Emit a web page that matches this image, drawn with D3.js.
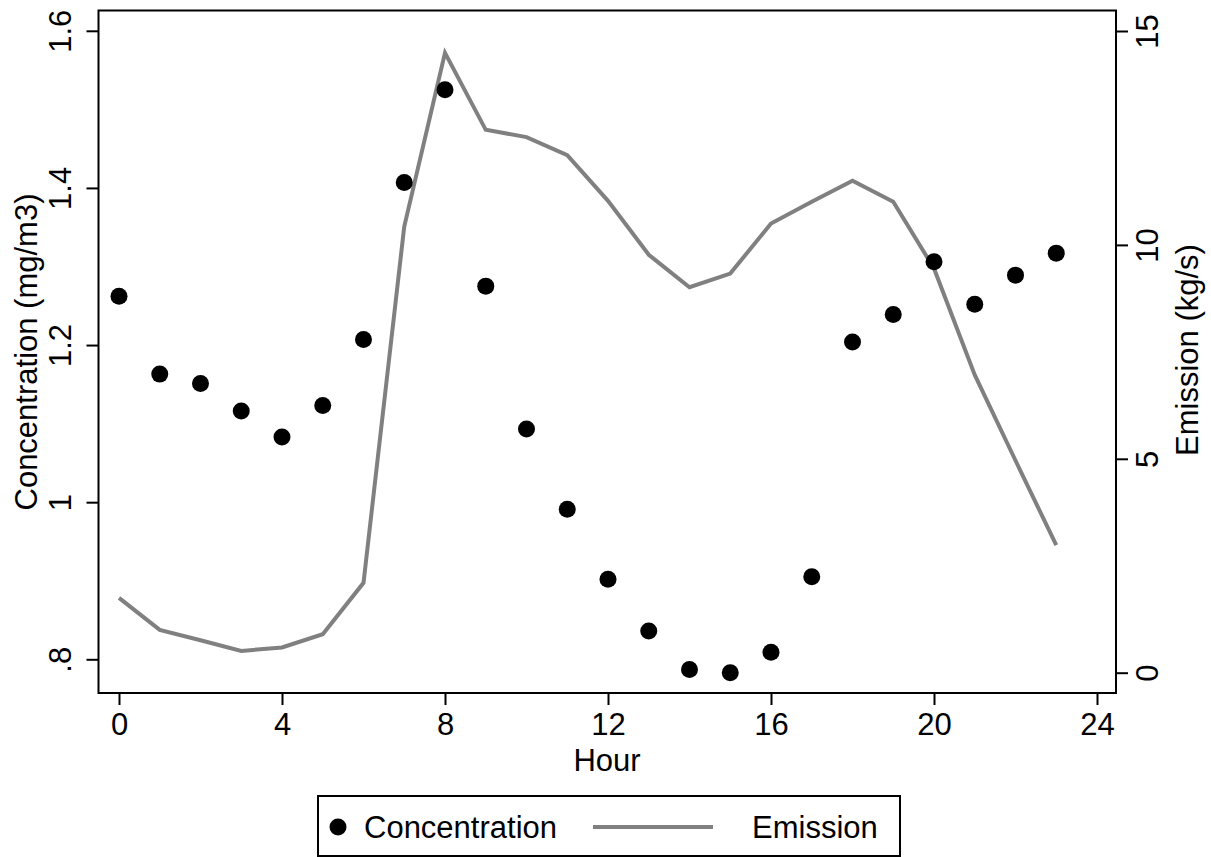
<!DOCTYPE html>
<html>
<head>
<meta charset="utf-8">
<script src="https://cdn.jsdelivr.net/npm/d3@7"></script>
<style>
  body { margin: 0; background: #fff; }
  svg text { font-family: 'Liberation Sans', Arial, Helvetica, sans-serif; fill: #000; }
</style>
</head>
<body>
<div id="chart"></div>
<script>
const hours = d3.range(0, 24)

const concentration = [1.262, 1.163, 1.151, 1.116, 1.083, 1.123, 1.207, 1.407,
  1.525, 1.275, 1.093, 0.991, 0.902, 0.836, 0.787, 0.783, 0.809, 0.905,
  1.204, 1.239, 1.306, 1.252, 1.289, 1.317]

const emission = [1.75, 1.0, 0.76, 0.51, 0.59, 0.9, 2.1, 10.43, 14.49, 12.69,
  12.52, 12.1, 11.03, 9.77, 9.01, 9.33, 10.5, 11.01, 11.5, 11.01, 9.45,
  6.96, 4.96, 2.98]

const xTicks = [0, 4, 8, 12, 16, 20, 24]
const leftTicks = [0.8, 1, 1.2, 1.4, 1.6]
const rightTicks = [0, 5, 10, 15]

const width = 1211
const height = 857
const box = { left: 98.5, right: 1116, top: 10.5, bottom: 693 }

const svg = d3
  .select('#chart')
  .append('svg')
  .attr('width', width)
  .attr('height', height)

const xPositionScale = d3.scaleLinear().domain([0, 24]).range([119, 1097])
const yLeftScale = d3.scaleLinear().domain([0.8, 1.6]).range([659.3, 30.8])
const yRightScale = d3.scaleLinear().domain([0, 15]).range([672.7, 31])

const fontSize = 31

// emission line
const line = d3
  .line()
  .x((d, i) => xPositionScale(hours[i]))
  .y(d => yRightScale(d))

svg
  .append('path')
  .datum(emission)
  .attr('d', line)
  .attr('fill', 'none')
  .attr('stroke', '#808080')
  .attr('stroke-width', 4)

// concentration dots
svg
  .selectAll('.dot')
  .data(concentration)
  .enter()
  .append('circle')
  .attr('class', 'dot')
  .attr('cx', (d, i) => xPositionScale(hours[i]))
  .attr('cy', d => yLeftScale(d))
  .attr('r', 8.5)
  .attr('fill', '#000')

// plot region outline
svg
  .append('rect')
  .attr('x', box.left)
  .attr('y', box.top)
  .attr('width', box.right - box.left)
  .attr('height', box.bottom - box.top)
  .attr('fill', 'none')
  .attr('stroke', '#000')
  .attr('stroke-width', 2)

const fmt = d => {
  const s = String(d)
  return s.startsWith('0.') ? s.slice(1) : s
}

// x axis
const xAxis = d3.axisBottom(xPositionScale).tickValues(xTicks).tickSize(12).tickPadding(8)
const gx = svg.append('g').attr('transform', 'translate(0,' + box.bottom + ')').call(xAxis)
gx.select('.domain').remove()
gx.selectAll('line').attr('stroke', '#000').attr('stroke-width', 2)
gx.selectAll('text').attr('font-size', fontSize).attr('font-family', null)

// left axis
const yAxis = d3.axisLeft(yLeftScale).tickValues(leftTicks).tickFormat(fmt).tickSize(12)
const gy = svg.append('g').attr('transform', 'translate(' + box.left + ',0)').call(yAxis)
gy.select('.domain').remove()
gy.selectAll('line').attr('stroke', '#000').attr('stroke-width', 2)
gy.selectAll('text')
  .attr('font-size', fontSize)
  .attr('font-family', null)
  .attr('x', null)
  .attr('dy', null)
  .attr('text-anchor', 'middle')
  .attr('transform', 'translate(-28,0) rotate(-90)')

// right axis
const yAxisR = d3.axisRight(yRightScale).tickValues(rightTicks).tickSize(12)
const gr = svg.append('g').attr('transform', 'translate(' + box.right + ',0)').call(yAxisR)
gr.select('.domain').remove()
gr.selectAll('line').attr('stroke', '#000').attr('stroke-width', 2)
gr.selectAll('text')
  .attr('font-size', fontSize)
  .attr('font-family', null)
  .attr('x', null)
  .attr('dy', null)
  .attr('text-anchor', 'middle')
  .attr('transform', 'translate(42,0) rotate(-90)')

// axis titles
svg.append('text')
  .attr('x', 607)
  .attr('y', 771)
  .attr('text-anchor', 'middle')
  .attr('font-size', fontSize)
  .text('Hour')

svg.append('text')
  .attr('transform', 'translate(37,' + 352 + ') rotate(-90)')
  .attr('text-anchor', 'middle')
  .attr('font-size', fontSize)
  .text('Concentration (mg/m3)')

svg.append('text')
  .attr('transform', 'translate(1198,' + 350 + ') rotate(-90)')
  .attr('text-anchor', 'middle')
  .attr('font-size', fontSize)
  .text('Emission (kg/s)')

// legend
const legend = svg.append('g')
legend.append('rect')
  .attr('x', 318)
  .attr('y', 796)
  .attr('width', 582)
  .attr('height', 60)
  .attr('fill', '#fff')
  .attr('stroke', '#000')
  .attr('stroke-width', 2)

legend.append('circle')
  .attr('cx', 338)
  .attr('cy', 827)
  .attr('r', 8.5)
  .attr('fill', '#000')

legend.append('text')
  .attr('x', 364)
  .attr('y', 838)
  .attr('font-size', fontSize)
  .text('Concentration')

legend.append('line')
  .attr('x1', 593)
  .attr('x2', 713)
  .attr('y1', 827)
  .attr('y2', 827)
  .attr('stroke', '#808080')
  .attr('stroke-width', 4)

legend.append('text')
  .attr('x', 752)
  .attr('y', 838)
  .attr('font-size', fontSize)
  .text('Emission')
</script>
</body>
</html>
